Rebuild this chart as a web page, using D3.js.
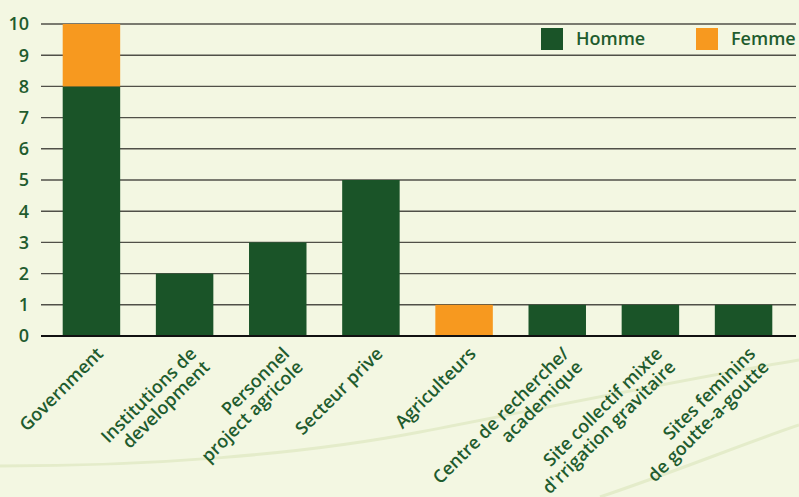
<!DOCTYPE html>
<html><head><meta charset="utf-8">
<script src="https://cdn.jsdelivr.net/npm/d3@7"></script>
<style>
html,body{margin:0;padding:0;background:#f3f7e2;}
svg{display:block;}
text{font-family:"Open Sans","Noto Sans",sans-serif;fill:#1f5c2e;font-weight:600;}
</style></head>
<body><svg id="c" width="799" height="497"></svg>
<script>
const categories = [
  ["Government"],
  ["Institutions de","development"],
  ["Personnel","project agricole"],
  ["Secteur prive"],
  ["Agriculteurs"],
  ["Centre de recherche/","academique"],
  ["Site collectif mixte","d'rrigation gravitaire"],
  ["Sites feminins","de goutte-a-goutte"]
];
const homme = [8, 2, 3, 5, 0, 1, 1, 1];
const femme = [2, 0, 0, 0, 1, 0, 0, 0];
const seriesNames = ["Homme","Femme"];
const yTicks = [0,1,2,3,4,5,6,7,8,9,10];

const colors = {Homme:"#1a5428", Femme:"#f7991f"};
const W = 799, H = 497;
const m = {left:41, right:3, top:24, bottom:161};
const svg = d3.select("#c");

// faint background decoration
const deco = svg.append("g").attr("fill","none").attr("stroke","#e4ecca").attr("stroke-width",3);
deco.append("path").attr("d","M0,466 C150,466 300,455 420,432 C560,405 690,378 799,360");
deco.append("path").attr("d","M600,497 C680,470 740,445 799,425");

const x = d3.scaleBand().domain(d3.range(categories.length)).range([45, 790]).paddingInner(0.383).paddingOuter(0.19);
const y = d3.scaleLinear().domain([0,10]).range([H - m.bottom, m.top]);

// gridlines
svg.append("g").selectAll("line").data(yTicks.filter(d=>d>0)).join("line")
  .attr("x1", m.left).attr("x2", 796)
  .attr("y1", d=>y(d)).attr("y2", d=>y(d))
  .attr("stroke","#505048").attr("stroke-width",1.4);

// y labels
svg.append("g").selectAll("text").data(yTicks).join("text")
  .attr("x", 29).attr("y", d=>y(d)).attr("dy","0.36em")
  .attr("text-anchor","end").attr("font-size",18).text(d=>d);

// stacked bars
const data = categories.map((c,i)=>({i, Homme:homme[i], Femme:femme[i]}));
const stack = d3.stack().keys(seriesNames)(data);
svg.append("g").selectAll("g").data(stack).join("g")
  .attr("fill", s=>colors[s.key])
  .selectAll("rect").data(s=>s.filter(d=>d[1]-d[0]>0)).join("rect")
  .attr("x", d=>x(d.data.i)).attr("width", x.bandwidth())
  .attr("y", d=>y(d[1])).attr("height", d=>y(d[0])-y(d[1]));

// baseline
svg.append("line").attr("x1", m.left).attr("x2",796).attr("y1",y(0)).attr("y2",y(0))
  .attr("stroke","#111").attr("stroke-width",2);

// x labels
const lab = svg.append("g").selectAll("text").data(categories).join("text")
  .attr("transform",(d,i)=>`translate(${x(i)+x.bandwidth()/2+4},${y(0)+10}) rotate(-45)`)
  .attr("text-anchor","end").attr("font-size",18);
lab.selectAll("tspan").data(d=>d).join("tspan")
  .attr("x",0).attr("dy",(d,j)=>j===0?"0.7em":"1.05em").text(d=>d);

// legend
const leg = svg.append("g").selectAll("g").data(seriesNames).join("g")
  .attr("transform",(d,i)=>`translate(${541+i*155},28)`);
leg.append("rect").attr("width",22).attr("height",22).attr("fill",d=>colors[d]);
leg.append("text").attr("x",35).attr("y",11).attr("dy","0.36em").attr("font-size",18).text(d=>d);
</script></body></html>
